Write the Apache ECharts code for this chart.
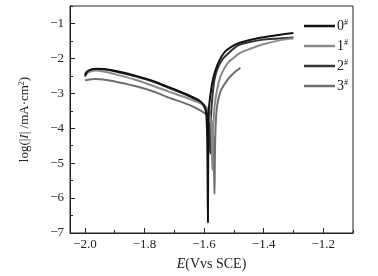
<!DOCTYPE html>
<html>
<head>
<meta charset="utf-8">
<script src="https://cdn.jsdelivr.net/npm/echarts@6/dist/echarts.min.js"></script>
<style>
  html, body { margin: 0; padding: 0; background: #fff; }
  #chart { width: 378px; height: 276px; }
</style>
</head>
<body>
<div id="chart"></div>
<script>
// [E (V vs SCE), log|I|]
const names = ['0#', '1#', '2#', '3#']
const colors = ['#111111', '#8a8a8a', '#333333', '#6e6e6e']

const curve0 = [
  [-2.0, -2.47], [-1.99, -2.36], [-1.963, -2.30], [-1.93, -2.31], [-1.88, -2.39],
  [-1.828, -2.50], [-1.77, -2.65], [-1.716, -2.83], [-1.67, -2.99], [-1.626, -3.16],
  [-1.61, -3.25], [-1.598, -3.38], [-1.592, -3.65], [-1.589, -4.5], [-1.587, -6.7],
  [-1.586, -4.6], [-1.585, -3.6], [-1.578, -3.0], [-1.57, -2.6], [-1.56, -2.3],
  [-1.548, -2.05], [-1.531, -1.82], [-1.51, -1.68], [-1.486, -1.57], [-1.45, -1.48],
  [-1.407, -1.40], [-1.35, -1.33], [-1.3, -1.27]
]
const curve1 = [
  [-2.0, -2.42], [-1.98, -2.37], [-1.963, -2.35], [-1.9, -2.45], [-1.828, -2.62],
  [-1.77, -2.79], [-1.716, -2.96], [-1.65, -3.16], [-1.6, -3.34], [-1.585, -3.5],
  [-1.577, -3.8], [-1.574, -4.4], [-1.572, -5.2], [-1.570, -4.2], [-1.565, -3.4],
  [-1.555, -2.85], [-1.542, -2.46], [-1.52, -2.13], [-1.5, -1.98], [-1.48, -1.85],
  [-1.44, -1.71], [-1.407, -1.61], [-1.34, -1.47], [-1.3, -1.43]
]
const curve2 = [
  [-2.0, -2.52], [-1.99, -2.40], [-1.963, -2.31], [-1.93, -2.32], [-1.88, -2.41],
  [-1.828, -2.52], [-1.77, -2.67], [-1.716, -2.85], [-1.67, -3.01], [-1.626, -3.19],
  [-1.605, -3.32], [-1.592, -3.5], [-1.584, -3.9], [-1.581, -4.3], [-1.579, -4.73],
  [-1.578, -4.1], [-1.577, -3.7], [-1.572, -3.1], [-1.565, -2.6], [-1.555, -2.3],
  [-1.54, -2.05], [-1.52, -1.87], [-1.486, -1.63], [-1.45, -1.54], [-1.407, -1.47],
  [-1.35, -1.43], [-1.3, -1.40]
]
const curve3 = [
  [-2.0, -2.63], [-1.963, -2.59], [-1.9, -2.66], [-1.828, -2.80], [-1.77, -2.95],
  [-1.716, -3.13], [-1.65, -3.33], [-1.61, -3.5], [-1.59, -3.62], [-1.575, -3.8],
  [-1.568, -4.5], [-1.565, -5.88], [-1.563, -4.5], [-1.558, -3.5], [-1.545, -2.95],
  [-1.52, -2.6], [-1.5, -2.42], [-1.478, -2.27]
]
const curves = [curve0, curve1, curve2, curve3]

const serif = 'Liberation Serif'
const fmt = v => String(v).replace('-', '\u2212')

const chart = echarts.init(document.getElementById('chart'))

const series = names.map((n, i) => ({
  name: n,
  type: 'line',
  data: curves[i],
  symbol: 'none',
  smooth: 0.3,
  lineStyle: { color: colors[i], width: 2 },
  itemStyle: { color: colors[i] },
  z: 10 - i
}))

chart.setOption({
  animation: false,
  backgroundColor: '#fff',
  grid: {
    left: 70, right: 25, top: 6, bottom: 41,
    show: true, borderColor: '#222', borderWidth: 1, backgroundColor: 'transparent'
  },
  legend: {
    orient: 'vertical',
    left: 299,
    top: 14,
    itemWidth: 31,
    itemHeight: 2.5,
    itemGap: 6,
    icon: 'rect',
    data: names,
    formatter: n => n[0] + '{s|#}',
    textStyle: {
      fontFamily: serif, fontSize: 14, color: '#222', lineHeight: 14,
      padding: [0, 0, 0, -3],
      rich: { s: { fontFamily: serif, fontSize: 8, verticalAlign: 'top', padding: [0, 0, 6, 0] } }
    }
  },
  xAxis: [
    {
      type: 'value', min: -2.05, max: -1.1, splitNumber: 5,
      name: '{i|E}{a|(Vvs SCE)}',
      nameLocation: 'middle', nameGap: 24,
      nameTextStyle: {
        rich: {
          i: { fontFamily: serif, fontSize: 14, fontStyle: 'italic', color: '#222' },
          a: { fontFamily: serif, fontSize: 14, color: '#222' }
        }
      },
      axisLine: { lineStyle: { color: '#222', width: 1 } },
      axisTick: { inside: true, length: 5, lineStyle: { color: '#222' } },
      axisLabel: {
        fontFamily: serif, fontSize: 13, color: '#222', margin: 5,
        showMinLabel: false, showMaxLabel: false,
        formatter: v => fmt(v.toFixed(1))
      },
      splitLine: { show: false }
    },
    {
      type: 'value', min: -2.05, max: -1.1, splitNumber: 10, position: 'bottom',
      axisLine: { show: false },
      axisTick: { inside: true, length: 3, lineStyle: { color: '#222' } },
      axisLabel: { show: false },
      splitLine: { show: false }
    }
  ],
  yAxis: [
    {
      type: 'value', min: -7, max: -0.5, interval: 1,
      name: '{a|log(|}{i|I}{a|| /mA\u00b7cm}{s|2}{a|)}',
      nameLocation: 'middle', nameGap: 38, nameRotate: 90,
      nameTextStyle: {
        rich: {
          a: { fontFamily: serif, fontSize: 13, color: '#222' },
          i: { fontFamily: serif, fontSize: 13, fontStyle: 'italic', color: '#222' },
          s: { fontFamily: serif, fontSize: 8, color: '#222', verticalAlign: 'top', padding: [0, 0, 6, 0] }
        }
      },
      axisLine: { lineStyle: { color: '#222', width: 1 } },
      axisTick: { inside: true, length: 5, lineStyle: { color: '#222' } },
      axisLabel: {
        fontFamily: serif, fontSize: 13, color: '#222', margin: 6,
        showMaxLabel: false,
        formatter: v => fmt(v)
      },
      splitLine: { show: false }
    },
    {
      type: 'value', min: -7, max: -0.5, interval: 0.5, position: 'left',
      axisLine: { show: false },
      axisTick: { inside: true, length: 3, lineStyle: { color: '#222' } },
      axisLabel: { show: false },
      splitLine: { show: false }
    }
  ],
  series: series
})
</script>
</body>
</html>
